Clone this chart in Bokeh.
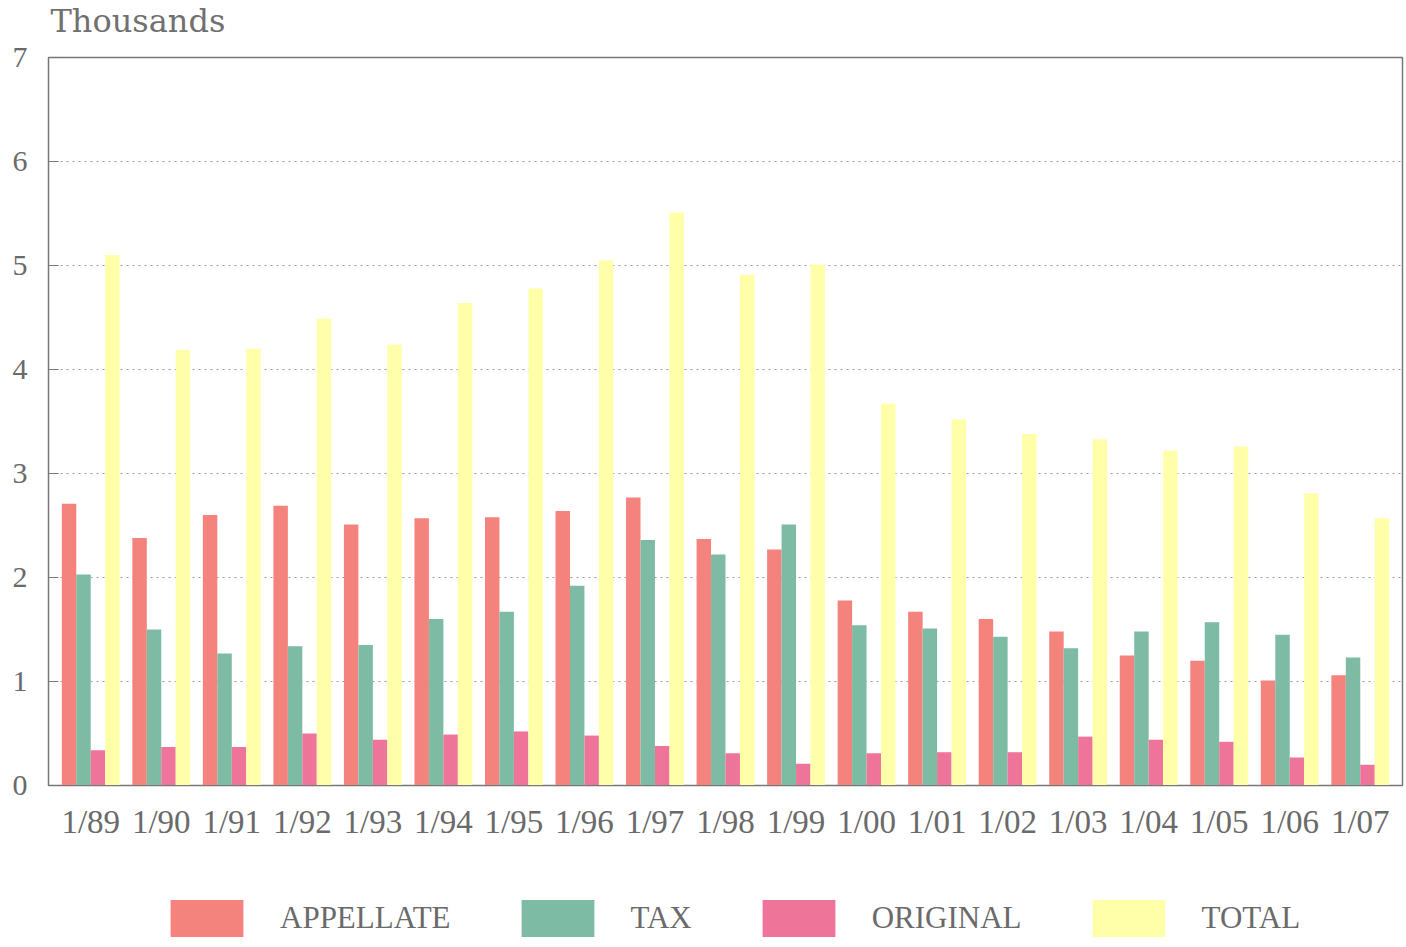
from bokeh.plotting import figure
from bokeh.layouts import column
from bokeh.models import FactorRange, ColumnDataSource, Legend, LegendItem, FixedTicker, Label, Range1d
from bokeh.transform import dodge
from bokeh.embed import file_html
from bokeh.resources import INLINE

categories = ["1/89", "1/90", "1/91", "1/92", "1/93", "1/94", "1/95", "1/96", "1/97", "1/98",
              "1/99", "1/00", "1/01", "1/02", "1/03", "1/04", "1/05", "1/06", "1/07"]
appellate = [2.71, 2.38, 2.60, 2.69, 2.51, 2.57, 2.58, 2.64, 2.77, 2.37,
             2.27, 1.78, 1.67, 1.60, 1.48, 1.25, 1.20, 1.01, 1.06]
tax = [2.03, 1.50, 1.27, 1.34, 1.35, 1.60, 1.67, 1.92, 2.36, 2.22,
       2.51, 1.54, 1.51, 1.43, 1.32, 1.48, 1.57, 1.45, 1.23]
original = [0.34, 0.37, 0.37, 0.50, 0.44, 0.49, 0.52, 0.48, 0.38, 0.31,
            0.21, 0.31, 0.32, 0.32, 0.47, 0.44, 0.42, 0.27, 0.20]
total = [5.10, 4.19, 4.20, 4.49, 4.24, 4.64, 4.78, 5.05, 5.51, 4.91,
         5.01, 3.67, 3.52, 3.38, 3.33, 3.22, 3.26, 2.81, 2.57]
series_names = ["APPELLATE", "TAX", "ORIGINAL", "TOTAL"]
y_ticks = [0, 1, 2, 3, 4, 5, 6, 7]
unit_title = "Thousands"

colors = ["#F4837D", "#7DBBA5", "#EE7499", "#FFFFAA"]
text_color = "#6a6a6a"
FW = 1354
borders = dict(min_border_left=48, min_border_right=2)

src = ColumnDataSource(dict(cat=categories, appellate=appellate, tax=tax,
                            original=original, total=total))
keys = ["appellate", "tax", "original", "total"]

# ---- header with the unit label ----
head = figure(frame_width=FW, frame_height=40, x_range=(0, FW), y_range=(0, 40),
              x_axis_location=None, y_axis_location=None,
              min_border_top=0, min_border_bottom=0, **borders,
              output_backend="svg", toolbar_location=None)
head.grid.visible = False
head.outline_line_color = None
head.add_layout(Label(x=2, y=20, text=unit_title, text_font="DejaVu Serif",
                      text_font_size="32px", text_color="#707070",
                      text_baseline="middle", text_align="left"))

# ---- main chart ----
p = figure(x_range=FactorRange(factors=categories, range_padding=0.0104),
           y_range=(0, 7), frame_width=FW, frame_height=728,
           output_backend="svg", toolbar_location=None,
           min_border_top=17, min_border_bottom=90, **borders)

offsets = [-0.3075, -0.1025, 0.1025, 0.3075]
for k, off, c in zip(keys, offsets, colors):
    p.vbar(x=dodge("cat", off, range=p.x_range), top=k, width=0.205, bottom=0,
           source=src, fill_color=c, line_color=None)

p.yaxis.ticker = FixedTicker(ticks=y_ticks)
p.yaxis.major_label_text_font = "Liberation Serif"
p.yaxis.major_label_text_font_size = "30px"
p.yaxis.major_label_text_color = text_color
p.yaxis.major_tick_in = 10
p.yaxis.major_tick_out = 0
p.yaxis.minor_tick_line_color = None
p.yaxis.axis_line_color = "#777777"
p.yaxis.major_tick_line_color = "#777777"
p.yaxis.major_label_standoff = 21

p.xaxis.major_label_text_font = "Liberation Serif"
p.xaxis.major_label_text_font_size = "33px"
p.xaxis.major_label_text_color = text_color
p.xaxis.major_tick_in = 0
p.xaxis.major_tick_out = 0
p.xaxis.axis_line_color = "#777777"
p.xaxis.major_label_standoff = 18

p.xgrid.grid_line_color = None
p.ygrid.grid_line_color = "#9a9a9a"
p.ygrid.grid_line_dash = "2 4"
p.ygrid.grid_line_width = 1

p.outline_line_color = "#777777"
p.outline_line_width = 1.5

# ---- footer with the legend (its renderers are hidden; only the legend shows) ----
foot = figure(frame_width=FW, frame_height=72,
              x_range=FactorRange(factors=categories), y_range=Range1d(0, 7),
              x_axis_location=None, y_axis_location=None,
              min_border_top=0, min_border_bottom=0, **borders,
              output_backend="svg", toolbar_location=None)
foot.grid.visible = False
foot.outline_line_color = None
items = []
for n, k, c in zip(series_names, keys, colors):
    r = foot.vbar(x="cat", top=k, bottom=0, width=0.2, source=src,
                  fill_color=c, line_color=None, visible=False)
    items.append(LegendItem(label=n, renderers=[r]))
legend = Legend(items=items, orientation="horizontal", location=(113, 6),
                glyph_width=91, glyph_height=46, label_standoff=28, spacing=61,
                label_height=46,
                label_text_font="Liberation Serif", label_text_font_size="31px",
                label_text_color=text_color, label_text_baseline="top",
                border_line_color=None, background_fill_alpha=0,
                inactive_fill_alpha=0,
                padding=0, margin=0)
foot.add_layout(legend, "center")

layout = column(head, p, foot, spacing=0)
open("out.html", "w").write(file_html(layout, INLINE))
